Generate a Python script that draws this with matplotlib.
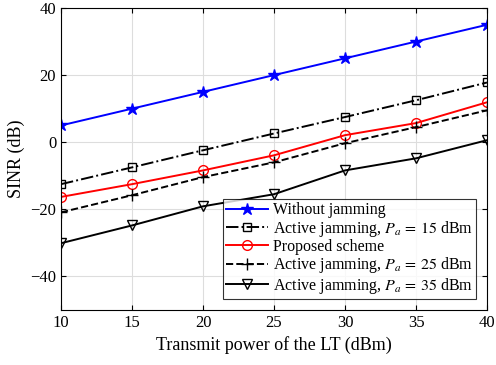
import matplotlib
matplotlib.use("Agg")
import matplotlib.pyplot as plt
import numpy as np

plt.rcParams['font.family'] = ['Liberation Serif', 'DejaVu Serif']
plt.rcParams['mathtext.fontset'] = 'stix'

power = [10, 15, 20, 25, 30, 35, 40]
no_jam = [5, 10, 15, 20, 25, 30, 35]
active_15 = [-12.5, -7.5, -2.4, 2.6, 7.5, 12.5, 17.8]
proposed = [-16.3, -12.5, -8.4, -3.9, 2.1, 5.7, 11.9]
active_25 = [-20.9, -15.8, -10.4, -6.0, -0.3, 4.5, 9.5]
active_35 = [-30.1, -24.8, -19.1, -15.5, -8.4, -4.8, 0.6]

fig = plt.figure(figsize=(4.96, 3.65), dpi=100)
ax = fig.add_axes([61 / 496, 1 - 310 / 365, 426 / 496, 302 / 365])

ax.plot(power, no_jam, 'b-', marker='*', ms=9, lw=1.4, label='Without jamming')
ax.plot(power, active_15, 'k-.', marker='s', ms=6, mfc='none', lw=1.4,
        label='Active jamming, $P_a\\,=\\,15$ dBm')
ax.plot(power, proposed, 'r-', marker='o', ms=7, mfc='none', lw=1.4,
        label='Proposed scheme')
ax.plot(power, active_25, 'k--', marker='+', ms=8, lw=1.4,
        label='Active jamming, $P_a\\,=\\,25$ dBm')
ax.plot(power, active_35, 'k-', marker='v', ms=7, mfc='none', lw=1.4,
        label='Active jamming, $P_a\\,=\\,35$ dBm')

ax.set_xlim(10, 40)
ax.set_ylim(-50, 40)
ax.set_xticks(power)
ax.set_yticks([-40, -20, 0, 20, 40])
ax.grid(True, color='#dddddd', lw=0.8)
ax.tick_params(direction='in', top=True, right=True, labelsize=12)
ax.set_xlabel('Transmit power of the LT (dBm)', fontsize=13)
ax.set_ylabel('SINR (dB)', fontsize=13)

leg = ax.legend(loc='lower right', fontsize=11.5, handlelength=2.6, handletextpad=0.3,
                borderpad=0.2, labelspacing=0.02, fancybox=False, borderaxespad=0.7)
leg.get_frame().set_edgecolor('black')
leg.get_frame().set_linewidth(0.8)

fig.savefig('out.png', dpi=100)
